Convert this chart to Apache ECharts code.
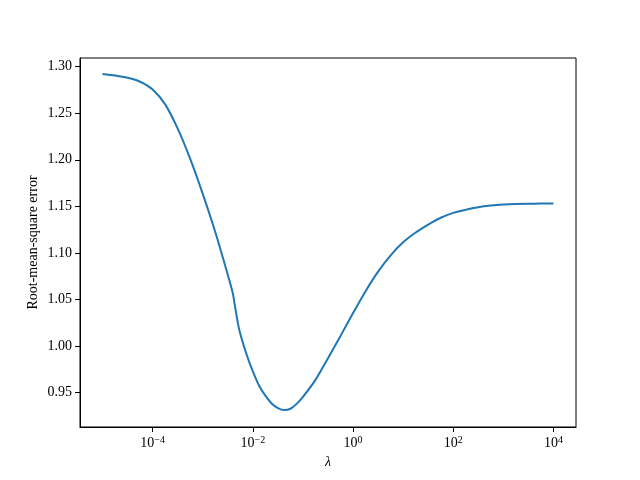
<!DOCTYPE html>
<html>
<head>
<meta charset="utf-8">
<script src="https://cdn.jsdelivr.net/npm/echarts@6/dist/echarts.min.js"></script>
<style>
  html, body { margin: 0; padding: 0; background: #fff; }
  #chart { width: 640px; height: 480px; }
</style>
</head>
<body>
<div id="chart"></div>
<script>
// lambda values (about four per decade) and RMSE
const lambdas = [
  1e-5, 1.778e-5, 3.162e-5, 5.623e-5,
  1e-4, 1.778e-4, 3.162e-4, 5.623e-4,
  1e-3, 1.778e-3, 3.162e-3, 3.98e-3, 4.3e-3, 5.37e-3, 7.5e-3,
  1e-2, 1.334e-2, 1.778e-2, 2.371e-2, 3.162e-2, 4.217e-2, 5.623e-2, 7.499e-2,
  0.1, 0.1778, 0.3162, 0.5623,
  1, 1.778, 3.162, 5.623,
  10, 17.78, 31.62, 56.23,
  100, 177.8, 316.2, 562.3,
  1000, 1778, 3162, 5623, 1e4
];
const rmse = [
  1.2922, 1.2905, 1.2880, 1.2838,
  1.2755, 1.2595, 1.2335, 1.2010,
  1.1635, 1.1225, 1.0765, 1.0567, 1.0460, 1.0173, 0.9910,
  0.9728, 0.9575, 0.9468, 0.9385, 0.9335, 0.9314, 0.9328, 0.9380,
  0.9455, 0.9638, 0.9870, 1.0110,
  1.0355, 1.0590, 1.0800, 1.0975,
  1.1115, 1.1220, 1.1305, 1.1378,
  1.1430, 1.1465, 1.1492, 1.1509,
  1.1520, 1.1526, 1.1529, 1.1530, 1.1530
];
const xTicks = [1e-4, 1e-2, 1, 1e2, 1e4];
const yTicks = [0.95, 1.00, 1.05, 1.10, 1.15, 1.20, 1.25, 1.30];

const chart = echarts.init(document.getElementById('chart'));
const font = '"Liberation Serif", "DejaVu Serif", serif';

const option = {
  animation: false,
  backgroundColor: '#fff',
  grid: {
    left: 80, right: 64, top: 58, bottom: 53,
    show: true, borderColor: '#000', borderWidth: 1
  },
  xAxis: {
    type: 'log',
    logBase: 10,
    min: Math.pow(10, -5.45),
    max: Math.pow(10, 4.45),
    name: 'λ',
    nameLocation: 'middle',
    nameGap: 26,
    nameTextStyle: { fontFamily: font, fontSize: 14, fontStyle: 'italic', color: '#000' },
    axisLine: { show: true, lineStyle: { color: '#000', width: 1 } },
    axisTick: { show: true, length: 5, lineStyle: { color: '#000' }, customValues: xTicks },
    axisLabel: {
      customValues: xTicks,
      fontFamily: font, fontSize: 14, color: '#000', margin: 8,
      formatter: (v) => {
        const e = Math.round(Math.log10(v));
        return '10{sup|' + (e < 0 ? '\u2212' + (-e) : e) + '}';
      },
      rich: {
        sup: { fontFamily: font, fontSize: 10, color: '#000', verticalAlign: 'top', padding: [0, 0, 7, 0] }
      }
    },
    splitLine: { show: false },
    minorTick: { show: false }
  },
  yAxis: {
    type: 'value',
    min: 0.9132,
    max: 1.3093,
    name: 'Root-mean-square error',
    nameLocation: 'middle',
    nameGap: 40,
    nameMoveOverlap: false,
    nameTextStyle: { fontFamily: font, fontSize: 14, color: '#000' },
    axisLine: { show: true, lineStyle: { color: '#000', width: 1 } },
    axisTick: { show: true, length: 5, lineStyle: { color: '#000' }, customValues: yTicks },
    axisLabel: {
      customValues: yTicks,
      fontFamily: font, fontSize: 14, color: '#000', margin: 8,
      formatter: (v) => v.toFixed(2)
    },
    splitLine: { show: false }
  },
  series: [{
    type: 'line',
    data: lambdas.map((l, i) => [l, rmse[i]]),
    showSymbol: false,
    smooth: 0.3,
    lineStyle: { color: '#1f77b4', width: 2 },
    itemStyle: { color: '#1f77b4' }
  }]
};

chart.setOption(option);
</script>
</body>
</html>
